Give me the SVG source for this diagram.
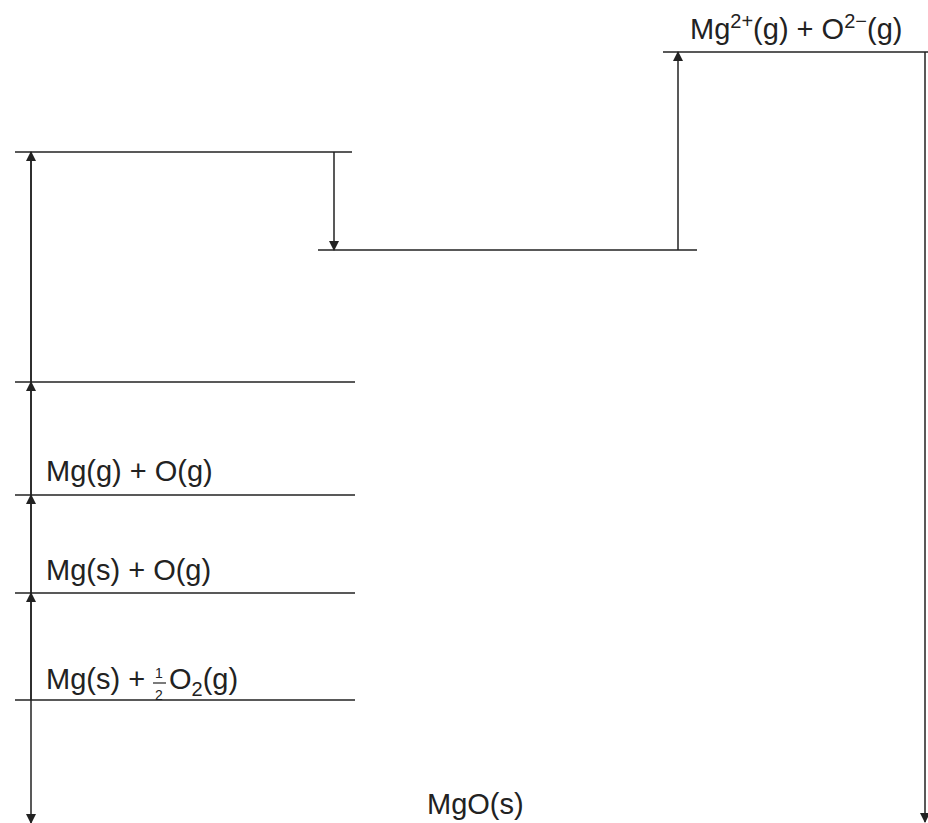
<svg xmlns="http://www.w3.org/2000/svg" width="928" height="823" viewBox="0 0 928 823">
<style>
.lv{stroke:#222;stroke-width:1.5;fill:none}
.ar{stroke:#222;stroke-width:1.5;fill:none}
text{font-family:"Liberation Sans",Arial,sans-serif;font-size:29px;fill:#222}
.sm{font-size:20px}
.fr{font-size:14px}
</style>
<defs>
<marker id="ah" viewBox="0 0 10 10" refX="9" refY="5" markerWidth="12" markerHeight="10" markerUnits="userSpaceOnUse" orient="auto">
<path d="M0,0 L10,5 L0,10 z" fill="#222"/>
</marker>
</defs>
<rect width="928" height="823" fill="#fff"/>
<g id="level-ions">
<line class="lv" x1="663" y1="52" x2="928" y2="52"/>
<text x="690" y="39">Mg<tspan class="sm" dy="-11">2+</tspan><tspan dy="11">(g) + O</tspan><tspan class="sm" dy="-11">2−</tspan><tspan dy="11">(g)</tspan></text>
</g>
<g id="level-top-left"><line class="lv" x1="15" y1="152" x2="352" y2="152"/></g>
<g id="level-mid"><line class="lv" x1="318" y1="250" x2="697" y2="250"/></g>
<g id="level-382"><line class="lv" x1="15" y1="382" x2="355" y2="382"/></g>
<g id="level-mg-g"><line class="lv" x1="15" y1="495" x2="355" y2="495"/>
<text x="46" y="481">Mg(g) + O(g)</text></g>
<g id="level-mg-s"><line class="lv" x1="15" y1="593" x2="355" y2="593"/>
<text x="46" y="580">Mg(s) + O(g)</text></g>
<g id="level-elements"><line class="lv" x1="15" y1="700" x2="355" y2="700"/>
<text x="46" y="689">Mg(s) +</text>
<text class="fr" x="155" y="678">1</text>
<line x1="153" y1="683" x2="166" y2="683" stroke="#222" stroke-width="1.2"/>
<text class="fr" x="155" y="700">2</text>
<text x="169" y="689">O<tspan class="sm" dy="7">2</tspan><tspan dy="-7">(g)</tspan></text>
</g>
<g id="level-mgo"><text x="427" y="814">MgO(s)</text></g>
<g id="connectors">
<line class="ar" x1="31" y1="700" x2="31" y2="593" marker-end="url(#ah)"/>
<line class="ar" x1="31" y1="593" x2="31" y2="495" marker-end="url(#ah)"/>
<line class="ar" x1="31" y1="495" x2="31" y2="382" marker-end="url(#ah)"/>
<line class="ar" x1="31" y1="382" x2="31" y2="152" marker-end="url(#ah)"/>
<line class="ar" x1="31" y1="152" x2="31" y2="823" marker-end="url(#ah)"/>
<line class="ar" x1="334" y1="152" x2="334" y2="250" marker-end="url(#ah)"/>
<line class="ar" x1="678" y1="250" x2="678" y2="52" marker-end="url(#ah)"/>
<line class="ar" x1="925" y1="52" x2="925" y2="822" marker-end="url(#ah)"/>
</g>
</svg>
